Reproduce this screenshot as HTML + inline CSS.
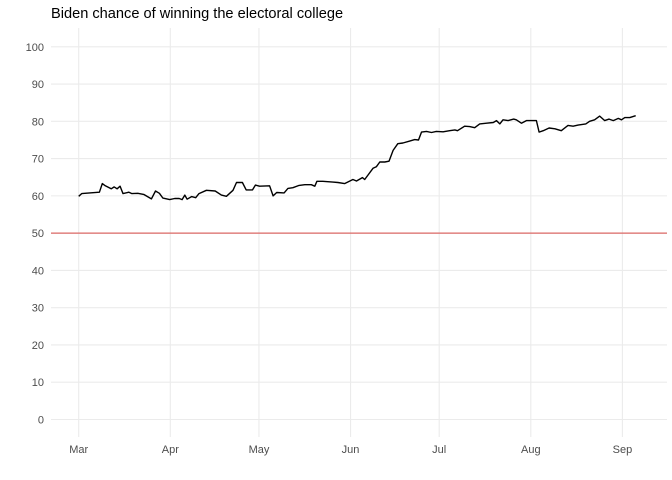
<!DOCTYPE html>
<html><head><meta charset="utf-8"><style>
body{margin:0;background:#fff;}
svg{display:block;font-family:"Liberation Sans",sans-serif;}
</style></head><body>
<svg id="chart" width="672" height="480" xmlns="http://www.w3.org/2000/svg">
<text x="51" y="18" font-size="14.6" fill="#000">Biden chance of winning the electoral college</text>
<g id="grid"></g>
<g id="axes"></g>
<g id="marks"></g>
</svg>
<script>
const days = [0,1,7,8,9,11,12,13,14,15,17,18,20,22,24.6,26,27.3,28.5,30.8,32.5,34,35,35.9,36.7,38.2,39.6,40.7,43.2,46.2,48.3,50,52.2,53.4,55.4,56.7,58.8,59.8,61.2,64.6,65.8,67,69.5,70.8,72.5,74.6,76.5,78.7,79.9,80.6,82.6,86,87.7,90,92.8,94,96,96.8,99.6,100.7,101.9,103.6,105,106.4,108,109.7,112,113.7,115,116,117.7,119.4,121,123.3,125.5,127.3,128.2,130.6,132.3,134,135.7,138,140.3,141.4,142.5,143.6,145.3,147.2,148.1,149.8,151.5,154.9,155.8,157.2,159.2,161.2,163.3,165.6,167.3,169,171.6,172.9,174.6,176.3,178,179.5,180.9,182.6,183.7,184.8,186.5,188.5];
const chance = [59.9,60.6,61.0,63.3,62.7,61.9,62.4,61.9,62.6,60.6,61.0,60.6,60.7,60.4,59.2,61.3,60.7,59.4,59.0,59.3,59.3,59.0,60.2,59.1,59.8,59.5,60.6,61.5,61.3,60.2,59.9,61.5,63.6,63.6,61.6,61.6,62.9,62.6,62.7,60.0,60.9,60.8,62.0,62.2,62.8,63.0,63.0,62.6,63.9,63.9,63.7,63.6,63.3,64.4,64.0,64.9,64.4,67.4,67.8,69.1,69.1,69.3,72.2,74.0,74.2,74.7,75.1,75.0,77.1,77.3,77.0,77.3,77.2,77.5,77.7,77.5,78.7,78.6,78.3,79.3,79.5,79.7,80.2,79.3,80.4,80.2,80.6,80.4,79.5,80.2,80.2,77.1,77.5,78.2,78.0,77.5,78.9,78.7,79.0,79.3,80.0,80.4,81.4,80.2,80.6,80.2,80.8,80.4,81.0,81.0,81.5];
const yTicks = [0,10,20,30,40,50,60,70,80,90,100];
const monthLabels = ["Mar","Apr","May","Jun","Jul","Aug","Sep"];
const monthDays = [0,31,61,92,122,153,184];
const threshold = 50;

const NS="http://www.w3.org/2000/svg";
const X0=51,X1=667,Y0=28,Y1=437;
const xs=d=>78.7+d*2.955;
const ys=v=>419.5-v*3.727;
function mk(tag,attrs,parent){const e=document.createElementNS(NS,tag);for(const k in attrs)e.setAttribute(k,attrs[k]);parent.appendChild(e);return e;}
const grid=document.getElementById('grid'),axes=document.getElementById('axes'),marks=document.getElementById('marks');
yTicks.forEach(t=>{
  const l=mk('line',{x1:X0,x2:X1,y1:ys(t),y2:ys(t),stroke:'#ebebeb','stroke-width':1.1},grid);
  
  
  const tx=mk('text',{x:44,y:ys(t)+4,'text-anchor':'end','font-size':11,fill:'#4d4d4d'},axes);
  tx.textContent=t;
  
  
});
monthDays.forEach((d,i)=>{
  const l=mk('line',{x1:xs(d),x2:xs(d),y1:Y0,y2:Y1,stroke:'#ebebeb','stroke-width':1.1},grid);
  
  
  const tx=mk('text',{x:xs(d),y:453,'text-anchor':'middle','font-size':11,fill:'#4d4d4d'},axes);
  tx.textContent=monthLabels[i];
  
  
});
const th=mk('line',{x1:X0,x2:X1,y1:ys(threshold),y2:ys(threshold),stroke:'#d9534f','stroke-width':1.2,opacity:0.85},marks);


const p=mk('polyline',{points:days.map((d,i)=>xs(d).toFixed(1)+','+ys(chance[i]).toFixed(1)).join(' '),fill:'none',stroke:'#000','stroke-width':1.4,'stroke-linejoin':'round'},marks);


</script>
</body></html>
